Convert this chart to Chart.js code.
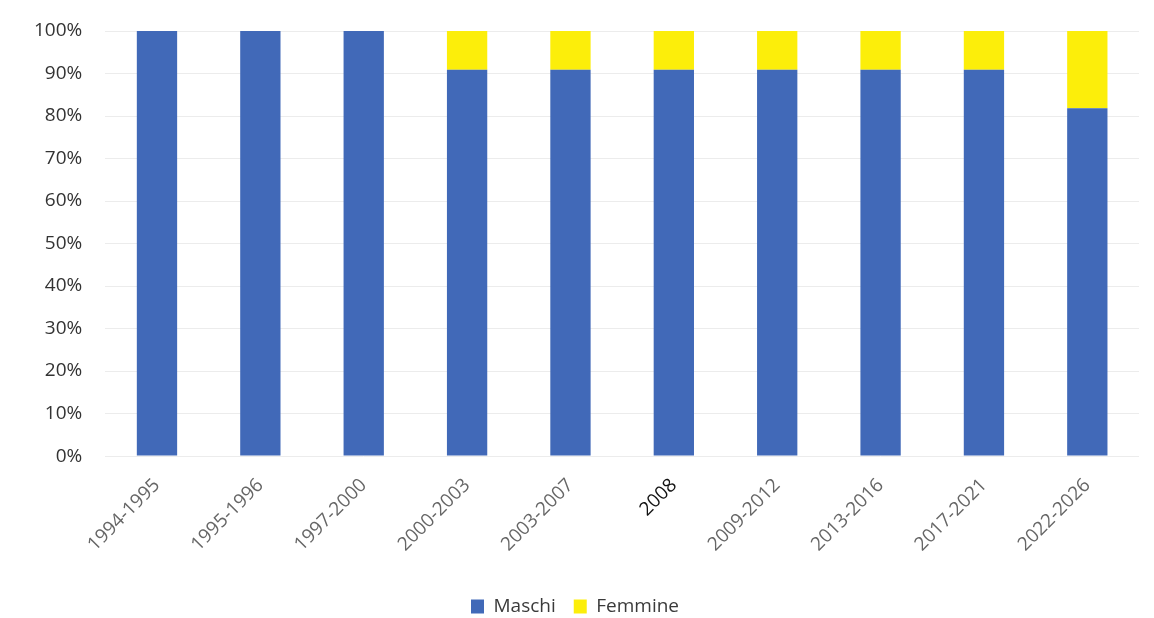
<!DOCTYPE html>
<html>
<head>
<meta charset="utf-8">
<script src="https://cdn.jsdelivr.net/npm/chart.js@4/dist/chart.umd.min.js"></script>
<style>
  html, body { margin: 0; padding: 0; background: #fff; }
  #wrap { width: 1154px; height: 618px; }
</style>
</head>
<body>
<div id="wrap"><canvas id="mycanvas" width="1154" height="618"></canvas></div>
<script>
var periodi = ['1994-1995', '1995-1996', '1997-2000', '2000-2003', '2003-2007', '2008', '2009-2012', '2013-2016', '2017-2021', '2022-2026'];
var maschi = [100, 100, 100, 90.9, 90.9, 90.9, 90.9, 90.9, 90.9, 81.8];
var femmine = [0, 0, 0, 9.1, 9.1, 9.1, 9.1, 9.1, 9.1, 18.2];

var ctx = document.getElementById('mycanvas');

var barGraph = new Chart(ctx, {
  type: 'bar',
  data: {
    labels: periodi,
    datasets: [
      {
        label: 'Maschi',
        data: maschi,
        backgroundColor: '#4169b8',
        categoryPercentage: 1,
        barPercentage: 0.39
      },
      {
        label: 'Femmine',
        data: femmine,
        backgroundColor: '#fcee0a',
        categoryPercentage: 1,
        barPercentage: 0.39
      }
    ]
  },
  options: {
    responsive: false,
    animation: false,
    layout: { padding: { left: 11, right: 15, top: 31, bottom: -8 } },
    scales: {
      x: {
        stacked: true,
        grid: { display: false },
        border: { display: false },
        afterFit: function(s) {
          s.height += 13;
          // rotated labels may run under the y labels, like the original
          s.paddingLeft = 0;
        },
        ticks: {
          minRotation: 45,
          maxRotation: 45,
          padding: 10,
          font: { family: 'Open Sans', size: 19 },
          color: function(c) { return c.index === 5 ? '#111' : '#666'; }
        }
      },
      y: {
        stacked: true,
        min: 0,
        max: 100,
        border: { display: false },
        grid: { color: '#ececec', drawTicks: false },
        afterFit: function(s) { s.paddingTop = 0; },
        ticks: {
          stepSize: 10,
          padding: 23,
          font: { family: 'Open Sans', size: 19 },
          color: '#333',
          callback: function(v) { return v + '%'; }
        }
      }
    },
    plugins: {
      tooltip: { enabled: false },
      legend: {
        position: 'bottom',
        labels: {
          boxWidth: 13,
          boxHeight: 14,
          padding: 18,
          font: { family: 'Open Sans', size: 19 },
          color: '#3a3a3a'
        }
      }
    }
  }
});
</script>
</body>
</html>
